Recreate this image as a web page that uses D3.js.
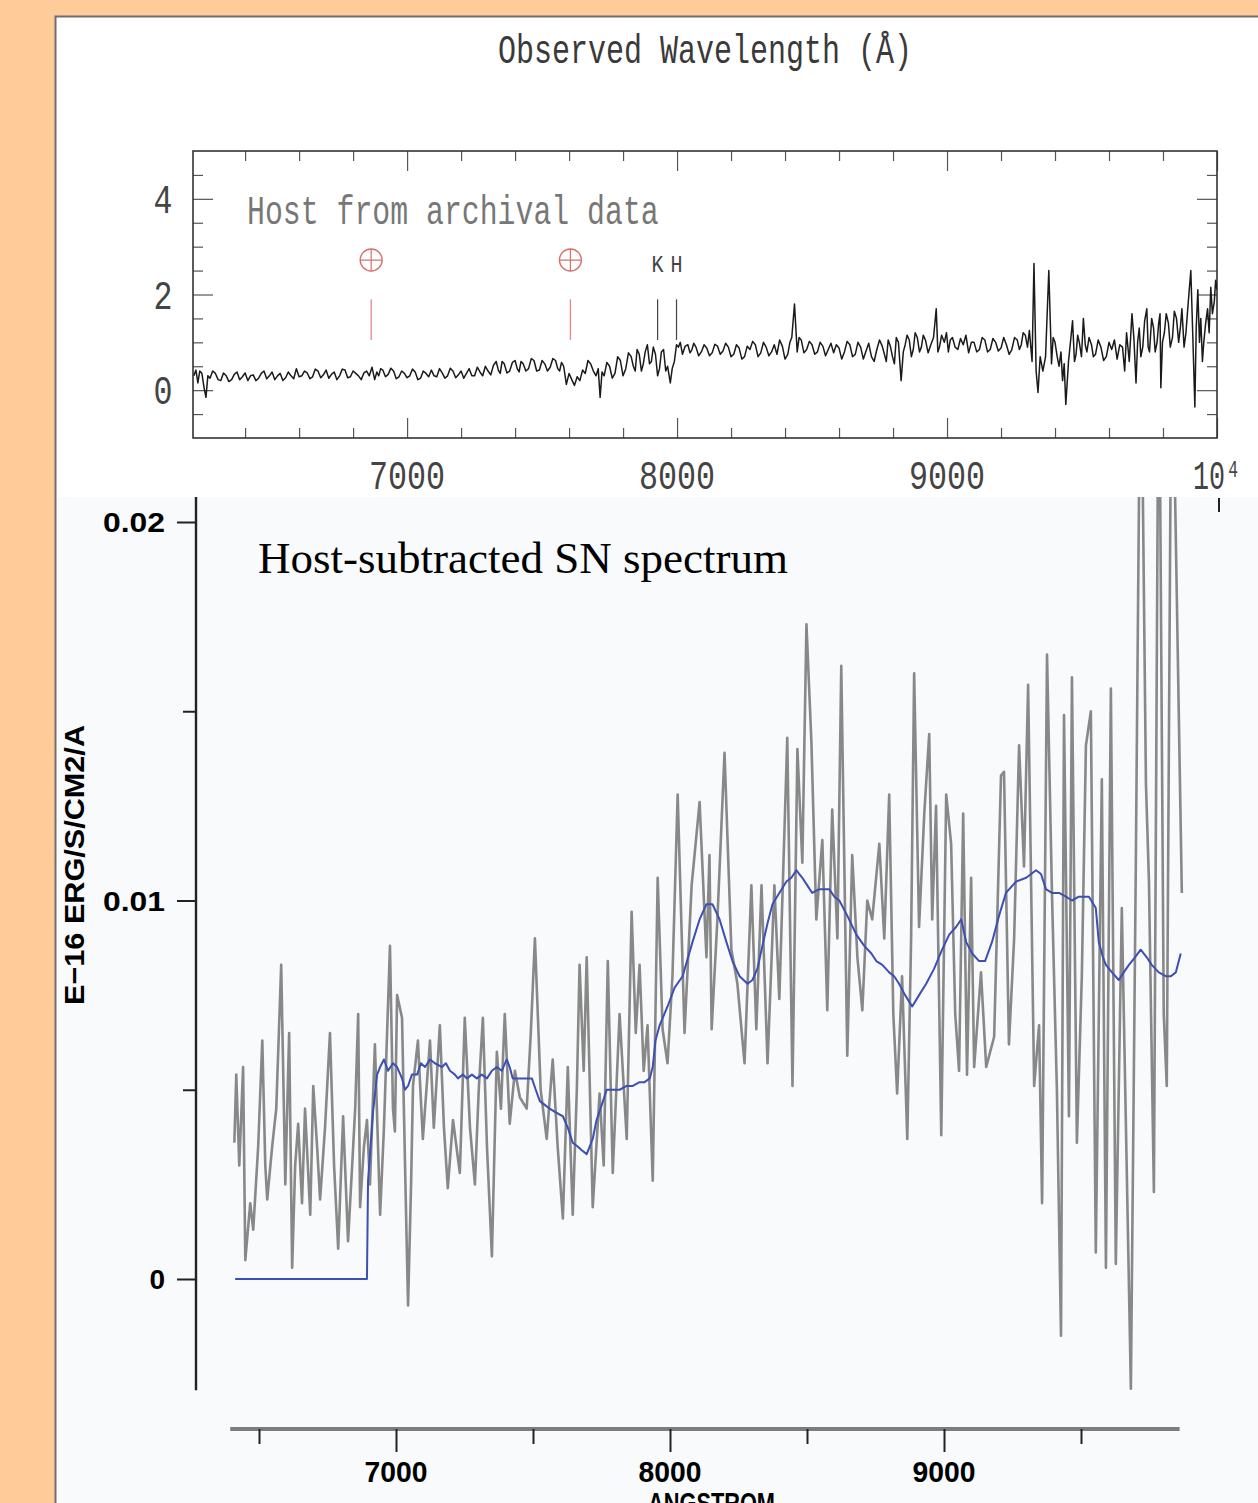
<!DOCTYPE html>
<html><head><meta charset="utf-8">
<script src="https://cdn.jsdelivr.net/npm/d3@7"></script>
<style>body{margin:0;background:#FFCC99;}svg{display:block}</style>
</head><body>
<svg id="c" width="1258" height="1503"></svg>
<script>
// ---------------- DATA ----------------
// Top panel: host galaxy spectrum from archival data [wavelength Å, flux]
const hostSpectrum = [[6210,0.30],[6218,0.42],[6225,0.15],[6232,0.40],[6240,0.35],[6248,0.05],[6255,-0.15],[6262,0.30],[6270,0.25],[6280,0.40],[6290,0.35],[6300,0.22],[6310,0.20],[6320,0.36],[6330,0.30],[6340,0.18],[6350,0.22],[6360,0.33],[6370,0.38],[6380,0.22],[6390,0.28],[6400,0.36],[6410,0.20],[6420,0.30],[6430,0.32],[6440,0.20],[6450,0.25],[6460,0.35],[6470,0.40],[6480,0.24],[6490,0.30],[6500,0.38],[6510,0.22],[6520,0.30],[6530,0.35],[6540,0.20],[6550,0.26],[6560,0.38],[6570,0.30],[6580,0.24],[6590,0.45],[6600,0.28],[6610,0.30],[6620,0.40],[6630,0.36],[6640,0.24],[6650,0.28],[6660,0.44],[6670,0.40],[6680,0.26],[6690,0.32],[6700,0.42],[6710,0.25],[6720,0.33],[6730,0.38],[6740,0.22],[6750,0.30],[6760,0.44],[6770,0.42],[6780,0.26],[6790,0.28],[6800,0.40],[6810,0.35],[6820,0.30],[6830,0.22],[6840,0.36],[6850,0.40],[6860,0.30],[6870,0.48],[6880,0.22],[6888,0.38],[6895,0.30],[6902,0.45],[6910,0.42],[6920,0.28],[6930,0.33],[6940,0.46],[6950,0.40],[6960,0.24],[6970,0.28],[6980,0.40],[6990,0.35],[7000,0.26],[7010,0.30],[7020,0.44],[7030,0.38],[7040,0.22],[7050,0.25],[7060,0.40],[7070,0.35],[7080,0.28],[7090,0.42],[7100,0.30],[7110,0.28],[7120,0.45],[7130,0.36],[7140,0.25],[7150,0.30],[7160,0.46],[7170,0.40],[7180,0.26],[7190,0.32],[7200,0.40],[7210,0.25],[7220,0.35],[7230,0.45],[7240,0.30],[7250,0.30],[7260,0.48],[7270,0.38],[7280,0.30],[7290,0.50],[7300,0.40],[7310,0.32],[7320,0.52],[7330,0.60],[7338,0.42],[7345,0.35],[7352,0.60],[7360,0.55],[7370,0.36],[7380,0.40],[7390,0.58],[7400,0.62],[7408,0.45],[7415,0.38],[7422,0.60],[7430,0.55],[7440,0.40],[7450,0.45],[7460,0.66],[7470,0.62],[7480,0.40],[7490,0.42],[7500,0.62],[7510,0.55],[7520,0.40],[7530,0.48],[7540,0.66],[7550,0.62],[7558,0.45],[7565,0.40],[7572,0.58],[7580,0.50],[7590,0.12],[7600,0.35],[7610,0.22],[7620,0.10],[7630,0.28],[7640,0.20],[7650,0.42],[7660,0.35],[7670,0.62],[7680,0.55],[7690,0.40],[7700,0.30],[7708,0.45],[7715,-0.15],[7722,0.38],[7730,0.30],[7740,0.58],[7750,0.50],[7760,0.25],[7770,0.35],[7780,0.70],[7790,0.62],[7800,0.30],[7810,0.45],[7820,0.78],[7830,0.70],[7838,0.50],[7845,0.40],[7852,0.85],[7860,0.75],[7868,0.40],[7875,0.55],[7882,0.80],[7890,0.95],[7898,0.55],[7905,0.60],[7912,0.90],[7920,0.75],[7928,0.30],[7935,0.45],[7942,0.80],[7950,0.85],[7958,0.40],[7965,0.50],[7975,0.15],[7982,0.45],[7990,0.60],[7998,0.95],[8005,0.90],[8012,1.00],[8020,0.75],[8030,0.92],[8040,0.95],[8048,0.78],[8055,0.85],[8062,0.98],[8070,0.90],[8080,0.72],[8090,0.80],[8100,0.95],[8110,0.88],[8120,0.72],[8130,0.78],[8140,0.96],[8150,0.92],[8160,0.75],[8170,0.82],[8180,0.98],[8190,0.90],[8200,0.70],[8210,0.75],[8220,0.95],[8230,0.88],[8240,0.65],[8250,0.70],[8260,0.92],[8270,0.85],[8280,1.02],[8290,0.95],[8300,0.70],[8310,0.78],[8320,1.00],[8330,0.90],[8340,0.72],[8350,0.80],[8360,0.95],[8370,0.75],[8380,1.05],[8390,0.92],[8400,0.65],[8410,0.75],[8418,1.00],[8425,1.10],[8435,1.80],[8445,0.80],[8452,1.10],[8460,1.05],[8470,0.78],[8480,0.85],[8490,1.02],[8500,0.95],[8510,0.75],[8520,0.80],[8530,1.00],[8540,0.92],[8550,0.72],[8560,0.85],[8570,0.98],[8580,0.78],[8590,0.95],[8600,0.88],[8610,0.65],[8620,0.80],[8630,1.02],[8640,0.95],[8650,0.70],[8660,0.75],[8670,1.00],[8680,0.90],[8690,0.65],[8700,0.82],[8710,0.98],[8720,0.70],[8730,0.60],[8740,0.85],[8750,1.05],[8760,0.92],[8768,0.75],[8775,0.60],[8782,1.05],[8790,0.92],[8798,0.70],[8805,0.55],[8812,1.10],[8820,1.00],[8830,0.20],[8838,0.80],[8845,0.95],[8852,1.15],[8860,1.05],[8868,0.70],[8875,0.85],[8882,1.20],[8890,1.10],[8898,0.80],[8905,0.90],[8912,1.15],[8920,1.05],[8930,0.78],[8940,0.95],[8950,1.10],[8960,1.70],[8966,0.80],[8972,0.90],[8980,1.15],[8990,1.00],[8998,1.20],[9005,0.80],[9012,1.05],[9020,1.10],[9030,0.90],[9040,0.85],[9050,1.08],[9060,0.95],[9070,1.15],[9080,0.78],[9090,1.00],[9100,1.00],[9110,0.80],[9120,0.85],[9130,1.10],[9140,1.05],[9150,0.80],[9160,0.85],[9170,1.08],[9180,1.00],[9190,0.82],[9200,0.88],[9210,1.10],[9220,0.95],[9230,0.75],[9240,0.85],[9250,1.10],[9260,1.05],[9268,0.85],[9275,0.95],[9282,1.20],[9290,1.15],[9298,0.90],[9305,1.25],[9315,0.60],[9322,2.65],[9330,0.40],[9337,-0.05],[9345,0.70],[9355,0.40],[9365,0.70],[9377,2.50],[9387,0.55],[9393,1.10],[9400,1.00],[9408,0.70],[9415,0.50],[9422,0.80],[9428,0.20],[9434,0.55],[9440,-0.30],[9450,0.60],[9458,1.05],[9465,1.45],[9472,0.60],[9478,0.75],[9484,1.15],[9490,1.00],[9498,0.70],[9505,1.50],[9512,0.95],[9518,0.80],[9526,1.10],[9535,0.95],[9542,0.70],[9550,0.75],[9560,1.05],[9570,0.90],[9580,0.62],[9590,0.70],[9600,1.00],[9610,0.85],[9620,1.05],[9630,0.65],[9640,0.95],[9650,0.90],[9658,0.40],[9665,1.20],[9675,0.60],[9685,1.60],[9692,1.10],[9700,0.15],[9706,1.00],[9712,1.30],[9718,0.70],[9725,0.90],[9732,1.45],[9740,1.70],[9745,0.90],[9750,0.80],[9758,1.50],[9765,1.30],[9771,0.80],[9778,1.00],[9784,1.40],[9789,1.60],[9792,0.05],[9798,1.00],[9805,1.20],[9812,1.60],[9820,1.40],[9827,0.90],[9835,1.10],[9842,1.65],[9850,1.50],[9858,1.00],[9865,1.35],[9870,1.70],[9878,0.90],[9885,1.20],[9893,1.80],[9903,2.50],[9910,1.20],[9918,-0.35],[9923,1.30],[9929,2.10],[9935,1.00],[9940,1.50],[9946,0.60],[9951,1.00],[9958,1.40],[9965,1.70],[9971,1.20],[9977,2.15],[9983,1.60],[9990,1.85],[9995,2.30],[10000,2.10]];
// Telluric markers and Ca K/H line markers (wavelength Å)
const telluricLines = [6867, 7605];
const caLines = [7928, 7998];
const caLabels = ["K", "H"];
const markerRange = [1.05, 1.9];
const markerSymbolY = 2.72;

// Top panel ticks
const topXMajor = [7000, 8000, 9000, 10000];
const topXLabels = ["7000", "8000", "9000", "10⁴"];
const topXMinor = [6400,6600,6800,7200,7400,7600,7800,8200,8400,8600,8800,9200,9400,9600,9800];
const topYMajor = [0, 2, 4];
const topYLabels = ["0", "2", "4"];
const topYMinor = [-0.5, 0.5, 1, 1.5, 2.5, 3, 3.5, 4.5];

// Bottom panel: host-subtracted SN spectrum, flux in units of 1e-3 (E-16 erg/s/cm2/A)
const snSpectrum = [[6410,3.6],[6417,5.4],[6428,3.0],[6442,5.6],[6450,0.5],[6468,2.0],[6479,1.3],[6497,3.5],[6512,6.3],[6523,3.0],[6530,2.1],[6548,3.5],[6563,4.5],[6581,8.3],[6596,2.5],[6610,6.5],[6621,0.3],[6632,3.0],[6643,4.1],[6657,2.0],[6668,4.5],[6687,1.7],[6698,5.1],[6712,3.5],[6723,2.1],[6741,4.0],[6759,6.5],[6774,3.0],[6789,0.8],[6807,4.3],[6825,1.0],[6840,3.0],[6851,4.5],[6862,7.0],[6869,1.9],[6883,3.5],[6894,4.2],[6905,2.5],[6923,6.2],[6942,1.7],[6956,4.0],[6978,8.8],[6989,4.5],[6996,3.9],[7004,7.5],[7022,6.9],[7033,3.0],[7044,-0.7],[7055,2.5],[7062,5.1],[7080,6.3],[7098,3.7],[7124,6.3],[7138,4.0],[7160,6.7],[7175,4.0],[7189,2.4],[7208,4.2],[7233,2.8],[7251,6.9],[7270,4.0],[7288,2.5],[7302,5.0],[7317,6.9],[7332,3.5],[7350,0.6],[7368,6.0],[7383,4.5],[7397,7.0],[7415,4.1],[7434,5.5],[7452,4.8],[7477,4.5],[7492,6.5],[7507,9.0],[7528,5.0],[7550,3.7],[7572,5.8],[7590,3.5],[7609,1.6],[7627,5.6],[7645,1.7],[7660,5.0],[7670,8.3],[7685,5.5],[7696,8.5],[7718,1.9],[7743,4.9],[7758,3.0],[7773,8.4],[7791,2.8],[7816,7.0],[7842,3.7],[7860,9.7],[7875,6.5],[7889,8.3],[7904,5.5],[7918,6.7],[7937,2.6],[7955,10.6],[7973,6.6],[7991,5.7],[8009,8.0],[8028,12.8],[8053,6.5],[8079,10.4],[8108,12.6],[8133,8.5],[8144,11.2],[8152,6.6],[8173,9.5],[8199,13.9],[8224,8.7],[8246,7.8],[8272,5.7],[8297,10.4],[8315,6.6],[8334,10.4],[8356,5.7],[8381,10.4],[8399,7.4],[8428,14.3],[8447,5.1],[8465,14.0],[8483,11.0],[8498,17.3],[8516,14.2],[8534,9.5],[8556,11.6],[8574,7.1],[8592,12.4],[8611,9.0],[8625,16.2],[8647,5.9],[8665,11.2],[8684,8.5],[8702,7.1],[8720,10.0],[8738,9.5],[8764,11.5],[8782,9.0],[8800,12.8],[8815,7.0],[8829,4.9],[8847,8.0],[8866,3.7],[8880,9.0],[8891,16.0],[8909,9.3],[8928,12.3],[8946,14.4],[8957,9.5],[8971,12.5],[8990,3.8],[9008,12.8],[9026,11.5],[9041,7.0],[9055,5.5],[9070,12.3],[9084,5.4],[9099,10.6],[9110,5.6],[9135,8.1],[9154,5.6],[9183,6.4],[9208,13.3],[9219,13.4],[9237,6.2],[9256,9.0],[9274,14.1],[9292,10.9],[9307,15.7],[9329,5.1],[9347,6.7],[9358,2.0],[9376,16.5],[9394,10.2],[9412,5.0],[9427,-1.5],[9438,14.9],[9456,4.3],[9467,15.9],[9485,3.6],[9503,8.0],[9518,14.1],[9536,15.0],[9554,0.7],[9576,13.2],[9591,0.3],[9609,15.6],[9627,0.4],[9649,9.8],[9682,-2.9],[9700,10.9],[9718,26],[9737,13.1],[9748,10.5],[9766,2.3],[9784,26],[9802,7.0],[9813,5.1],[9831,26],[9868,10.2]];
// Smoothed SN spectrum (blue)
const snSmooth = [[6413,0],[6894,0],[6898,2.6],[6916,4.4],[6931,5.4],[6942,5.6],[6956,5.8],[6971,5.5],[6989,5.7],[7004,5.6],[7022,5.3],[7033,5.0],[7044,5.1],[7058,5.4],[7077,5.4],[7091,5.7],[7106,5.6],[7124,5.8],[7142,5.7],[7168,5.6],[7182,5.7],[7197,5.5],[7215,5.4],[7226,5.3],[7244,5.4],[7259,5.3],[7277,5.4],[7295,5.3],[7313,5.4],[7332,5.3],[7350,5.5],[7368,5.6],[7386,5.5],[7404,5.8],[7415,5.6],[7426,5.3],[7452,5.3],[7477,5.3],[7496,5.3],[7510,5.0],[7525,4.7],[7543,4.6],[7561,4.5],[7583,4.4],[7609,4.3],[7627,4.0],[7645,3.6],[7663,3.5],[7678,3.4],[7696,3.3],[7718,3.7],[7732,4.2],[7751,4.6],[7769,5.0],[7791,5.0],[7816,5.0],[7842,5.1],[7864,5.1],[7889,5.2],[7907,5.2],[7926,5.3],[7937,5.6],[7947,6.3],[7962,6.7],[7991,7.2],[8017,7.7],[8046,8.0],[8082,8.9],[8108,9.5],[8133,9.9],[8155,9.9],[8181,9.5],[8206,8.9],[8228,8.4],[8254,8.0],[8283,7.8],[8301,7.9],[8319,8.2],[8337,8.8],[8356,9.4],[8374,9.9],[8399,10.2],[8425,10.5],[8443,10.6],[8461,10.8],[8472,10.7],[8483,10.6],[8501,10.4],[8519,10.2],[8545,10.3],[8567,10.3],[8581,10.3],[8600,10.1],[8618,10.0],[8647,9.6],[8680,9.1],[8709,8.8],[8735,8.6],[8753,8.4],[8775,8.3],[8800,8.1],[8818,8.0],[8836,7.8],[8858,7.5],[8884,7.2],[8909,7.5],[8935,7.8],[8964,8.2],[8993,8.7],[9019,9.1],[9044,9.3],[9063,9.5],[9081,8.9],[9103,8.6],[9128,8.4],[9150,8.4],[9175,8.9],[9201,9.6],[9226,10.2],[9263,10.5],[9300,10.6],[9336,10.8],[9354,10.7],[9372,10.3],[9394,10.2],[9420,10.2],[9445,10.1],[9467,10.0],[9492,10.1],[9529,10.1],[9554,9.8],[9565,8.9],[9580,8.5],[9591,8.3],[9613,8.1],[9638,7.9],[9656,8.1],[9675,8.3],[9697,8.5],[9718,8.7],[9740,8.5],[9758,8.3],[9784,8.1],[9809,8.0],[9828,8.0],[9846,8.1],[9864,8.6]];
// Bottom panel ticks
const botXMajor = [7000, 8000, 9000];
const botXLabels = ["7000", "8000", "9000"];
const botXMinor = [6500, 7500, 8500, 9500];
const botXAxisExtent = [6395, 9860];
const botYMajor = [0, 10, 20];
const botYLabels = ["0", "0.01", "0.02"];
const botYMinor = [5, 15];
const botYAxisExtent = [-2.94, 20.66];

// ---------------- DRAW ----------------
const svg = d3.select('#c');
svg.append('rect').attr('width',1258).attr('height',1503).attr('fill','#FFCC99');
svg.append('rect').attr('x',55).attr('y',16).attr('width',1203).attr('height',1487).attr('fill','#ffffff');
svg.append('rect').attr('x',57).attr('y',497).attr('width',1201).attr('height',1006).attr('fill','#F8FAFC');
svg.append('path').attr('d','M55.5,1503V16.5H1258').attr('stroke','#6e6e6e').attr('stroke-width',2).attr('fill','none');

const hershey = "'Liberation Mono','DejaVu Sans Mono',monospace";
function monoText(g, txt, x, y, size, fill, anchor, charW){
  const t = g.append('text').attr('x',x).attr('y',y).attr('font-family',hershey)
    .attr('font-size',size).attr('fill',fill).attr('text-anchor',anchor||'start').text(txt);
  if (charW) t.attr('textLength', [...txt].length*charW).attr('lengthAdjust','spacingAndGlyphs');
  return t;
}

// ---- Top panel ----
const xT = d3.scaleLinear().domain([6207,10000]).range([193,1217]);
const yT = d3.scaleLinear().domain([-1,5]).range([438,151]);
const gT = svg.append('g');

monoText(gT, 'Observed Wavelength (Å)', 498, 63, 40, '#3a3a3a', 'start', 18);

function styleAxis(g){ g.select('.domain').remove(); g.selectAll('.tick line').attr('stroke','#555').attr('stroke-width',1.2); g.selectAll('.tick text').remove(); }
gT.append('g').attr('transform','translate(0,438)').call(d3.axisBottom(xT).tickValues(topXMinor).tickSize(-10)).call(styleAxis);
gT.append('g').attr('transform','translate(0,438)').call(d3.axisBottom(xT).tickValues(topXMajor).tickSize(-20)).call(styleAxis);
gT.append('g').attr('transform','translate(0,151)').call(d3.axisTop(xT).tickValues(topXMinor).tickSize(-10)).call(styleAxis);
gT.append('g').attr('transform','translate(0,151)').call(d3.axisTop(xT).tickValues(topXMajor).tickSize(-20)).call(styleAxis);
gT.append('g').attr('transform','translate(193,0)').call(d3.axisLeft(yT).tickValues(topYMinor).tickSize(-10)).call(styleAxis);
gT.append('g').attr('transform','translate(193,0)').call(d3.axisLeft(yT).tickValues(topYMajor).tickSize(-20)).call(styleAxis);
gT.append('g').attr('transform','translate(1217,0)').call(d3.axisRight(yT).tickValues(topYMinor).tickSize(-10)).call(styleAxis);
gT.append('g').attr('transform','translate(1217,0)').call(d3.axisRight(yT).tickValues(topYMajor).tickSize(-20)).call(styleAxis);
gT.append('rect').attr('x',xT.range()[0]).attr('y',yT.range()[1]).attr('width',xT.range()[1]-xT.range()[0]).attr('height',yT.range()[0]-yT.range()[1])
  .attr('fill','none').attr('stroke','#333').attr('stroke-width',1.6);

topXMajor.forEach((v,i)=>{
  const lab = topXLabels[i];
  if (lab === '10⁴') monoText(gT, lab, xT(v), 489, 40, '#444', 'middle', 16);
  else monoText(gT, lab, xT(v), 489, 40, '#444', 'middle', 19);
});
topYMajor.forEach((v,i)=> monoText(gT, topYLabels[i], 163, yT(v)+14, 40, '#444', 'middle', 19));

monoText(gT, 'Host from archival data', 247, 224, 40, '#777', 'start', 17.9);

// telluric markers
telluricLines.forEach(w=>{
  gT.append('line').attr('x1',xT(w)).attr('x2',xT(w)).attr('y1',yT(markerRange[0])).attr('y2',yT(markerRange[1])).attr('stroke','#e08a8a').attr('stroke-width',1.3);
  const cx = xT(w), cy = yT(markerSymbolY);
  gT.append('circle').attr('cx',cx).attr('cy',cy).attr('r',11).attr('fill','none').attr('stroke','#d97070').attr('stroke-width',1.4);
  gT.append('path').attr('d',`M${cx-11},${cy}H${cx+11}M${cx},${cy-11}V${cy+11}`).attr('stroke','#d97070').attr('stroke-width',1.2);
});
caLines.forEach((w,i)=>{
  gT.append('line').attr('x1',xT(w)).attr('x2',xT(w)).attr('y1',yT(markerRange[0])).attr('y2',yT(markerRange[1])).attr('stroke','#444').attr('stroke-width',1.2);
  monoText(gT, caLabels[i], xT(w), 272, 24, '#444', 'middle', 12);
});

svg.append('clipPath').attr('id','clipT').append('rect').attr('x',193).attr('y',151).attr('width',1024).attr('height',287);
gT.append('path').datum(hostSpectrum).attr('clip-path','url(#clipT)')
  .attr('d', d3.line().x(d=>xT(d[0])).y(d=>yT(d[1])))
  .attr('fill','none').attr('stroke','#1a1a1a').attr('stroke-width',1.5).attr('stroke-linejoin','round');

// ---- Bottom panel ----
const xB = d3.scaleLinear().domain([7000,9000]).range([396,944]);
const yB = d3.scaleLinear().domain([0,20]).range([1279,522]);
const gB = svg.append('g');
const sans = "'Liberation Sans',Arial,Helvetica,sans-serif";

gB.append('text').attr('x',258).attr('y',573).attr('font-family',"'Liberation Serif','Times New Roman',serif")
  .attr('font-size',45).attr('fill','#000').text('Host-subtracted SN spectrum');

svg.append('clipPath').attr('id','clipB').append('rect').attr('x',197).attr('y',497).attr('width',1061).attr('height',1006);
gB.append('path').datum(snSpectrum).attr('clip-path','url(#clipB)')
  .attr('d', d3.line().x(d=>xB(d[0])).y(d=>yB(d[1])))
  .attr('fill','none').attr('stroke','#888888').attr('stroke-width',2.6).attr('stroke-linejoin','round');
gB.append('path').datum(snSmooth).attr('clip-path','url(#clipB)')
  .attr('d', d3.line().x(d=>xB(d[0])).y(d=>yB(d[1])))
  .attr('fill','none').attr('stroke','#3c50b4').attr('stroke-width',2).attr('stroke-linejoin','round');

// y axis
gB.append('line').attr('x1',196).attr('x2',196).attr('y1',yB(botYAxisExtent[1])).attr('y2',yB(botYAxisExtent[0])).attr('stroke','#222').attr('stroke-width',2.4);
function styleB(g){ g.select('.domain').remove(); g.selectAll('.tick line').attr('stroke','#222').attr('stroke-width',2); g.selectAll('.tick text').remove(); }
gB.append('g').attr('transform','translate(196,0)').call(d3.axisLeft(yB).tickValues(botYMajor).tickSize(19)).call(styleB);
gB.append('g').attr('transform','translate(196,0)').call(d3.axisLeft(yB).tickValues(botYMinor).tickSize(13)).call(styleB);
botYMajor.forEach((v,i)=>{
  const t = gB.append('text').attr('x',165).attr('y',yB(v)).attr('dy','0.36em').attr('text-anchor','end')
    .attr('font-family',sans).attr('font-weight','bold').attr('font-size',28).attr('fill','#000').text(botYLabels[i]);
  if (botYLabels[i].length > 1) t.attr('textLength', 62).attr('lengthAdjust','spacingAndGlyphs');
});
gB.append('text').attr('transform','translate(84,865) rotate(-90)').attr('text-anchor','middle')
  .attr('font-family',sans).attr('font-weight','bold').attr('font-size',28).attr('fill','#000')
  .attr('textLength',280).attr('lengthAdjust','spacingAndGlyphs').text('E−16 ERG/S/CM2/A');

// x axis
gB.append('line').attr('x1',xB(botXAxisExtent[0])).attr('x2',xB(botXAxisExtent[1])).attr('y1',1429).attr('y2',1429).attr('stroke','#7d7d7d').attr('stroke-width',4);
gB.append('g').attr('transform','translate(0,1429)').call(d3.axisBottom(xB).tickValues(botXMajor).tickSize(23)).call(styleB);
gB.append('g').attr('transform','translate(0,1429)').call(d3.axisBottom(xB).tickValues(botXMinor).tickSize(15)).call(styleB);
botXMajor.forEach((v,i)=>{
  gB.append('text').attr('x',xB(v)).attr('y',1482).attr('text-anchor','middle')
    .attr('font-family',sans).attr('font-weight','bold').attr('font-size',30).attr('fill','#000')
    .attr('textLength',63).attr('lengthAdjust','spacingAndGlyphs').text(botXLabels[i]);
});
gB.append('text').attr('x',648).attr('y',1513).attr('font-family',sans).attr('font-weight','bold').attr('font-size',29)
  .attr('fill','#000').attr('textLength',127).attr('lengthAdjust','spacingAndGlyphs').text('ANGSTROM');
// small tick mark at top right of lower plot
gB.append('line').attr('x1',1219).attr('x2',1219).attr('y1',498).attr('y2',512).attr('stroke','#222').attr('stroke-width',2);
</script>
</body></html>
